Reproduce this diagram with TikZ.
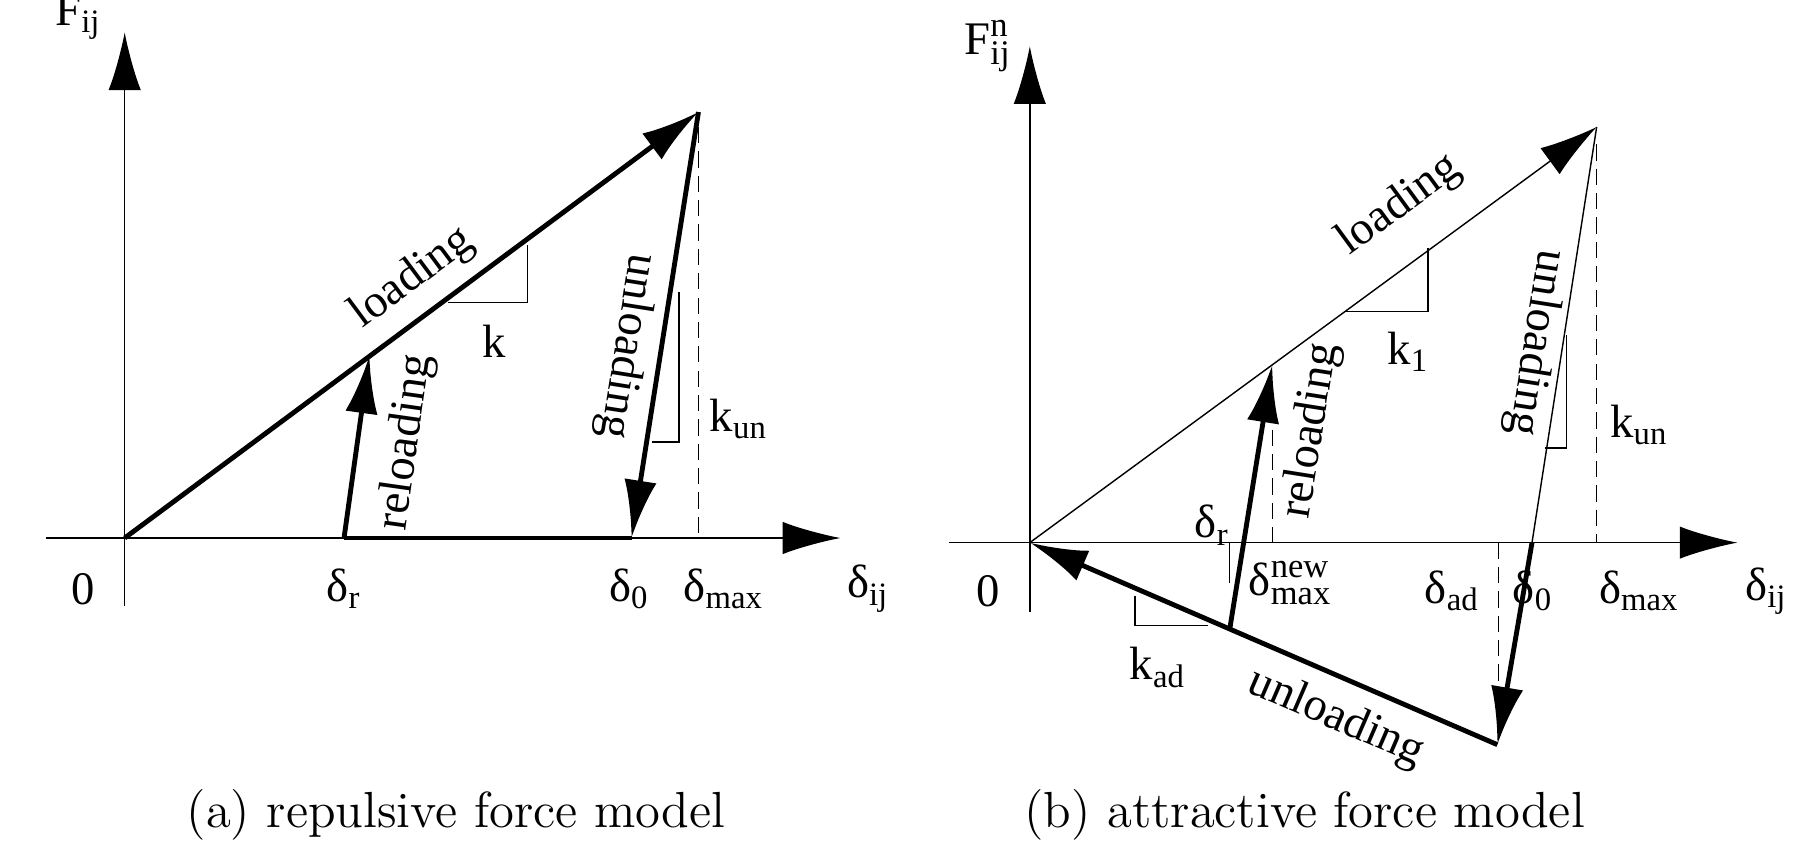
\documentclass[tikz,border=0pt]{standalone}
\usepackage{fontspec}
\setmainfont{Liberation Serif}
\newfontfamily\lmfont{Latin Modern Roman}
\usetikzlibrary{arrows.meta}
\newcommand{\sbs}[1]{\textsubscript{#1}}
\newcommand{\supsub}[2]{\rlap{\raisebox{0.85ex}{\fontsize{8.5}{9}\selectfont #1}}\raisebox{-0.45ex}{\fontsize{8.5}{9}\selectfont #2}}
\begin{document}
\begin{tikzpicture}[x=0.01cm,y=-0.01cm,
  tn/.style={line width=0.35pt},
  tk/.style={line width=1.2pt},
  arr/.style={-{Latex[length=5mm,width=2.8mm]}},
  dsh/.style={line width=0.35pt,dash pattern=on 4pt off 2pt},
  lab/.style={font=\fontsize{11.5}{13}\selectfont,inner sep=1pt},
  capt/.style={font=\lmfont\fontsize{12.5}{15}\selectfont}]
\useasboundingbox (0,0) rectangle (1560,738);
% ---------- panel a
\coordinate (Oa) at (108,466);
\coordinate (Ya) at (108,28);
\coordinate (Yab) at (108,525);
\coordinate (Xal) at (40,466);
\coordinate (Xa) at (728,466);
\coordinate (Pa) at (605,97);
\coordinate (D0a) at (547,466);
\coordinate (Dra) at (298,466);
\coordinate (Ra) at (320,308);
\draw[tn,arr] (Yab) -- (Ya);
\draw[tn,arr] (Xal) -- (Xa);
\draw[tk,arr] (Oa) -- (Pa);
\draw[tk,arr] (Pa) -- (D0a);
\draw[tk] (Dra) -- (D0a);
\draw[tk,arr] (Dra) -- (Ra);
\draw[dsh] (605,110) -- (605,466);
\draw[tn] (388,262) -- (457,262) -- (457,212);
\draw[tn] (588,253) -- (588,383) -- (565,383);
\node[lab] (la) at (357,241) [rotate=36.6] {loading};
\node[lab] (ua) at (543,300) [rotate=-99] {unloading};
\node[lab] (ra) at (352,383) [rotate=82] {reloading};
\node[lab] (ka) at (428,296) {k};
\node[lab] (kuna) at (640,363) {k\sbs{un}};
\node[lab] (za) at (72,510) {0};
\node[lab] (dra) at (298,510) {δ\sbs{r}};
\node[lab] (d0a) at (545,510) {δ\sbs{0}};
\node[lab] (dma) at (627,510) {δ\sbs{max}};
\node[lab] (dija) at (752,510) {δ\sbs{ij}};
\node[lab] (Fa) at (68,15) {F\sbs{ij}};
\node[capt] (capa) at (395,706) {(a) repulsive force model};
% ---------- panel b
\coordinate (Ob) at (892,470);
\coordinate (Yb) at (892,40);
\coordinate (Ybb) at (892,530);
\coordinate (Xbl) at (822,470);
\coordinate (Xb) at (1505,470);
\coordinate (Pb) at (1383,110);
\coordinate (D0b) at (1327,470);
\coordinate (Bb) at (1297,645);
\coordinate (Sb) at (1065,546);
\coordinate (Rb) at (1102,316);
\draw[tn,arr] (Ybb) -- (Yb);
\draw[tn,arr] (Xbl) -- (Xb);
\draw[tn,arr] (Ob) -- (Pb);
\draw[tn] (Pb) -- (D0b);
\draw[tk,arr] (D0b) -- (Bb);
\draw[tk,arr] (Bb) -- (Ob);
\draw[tk,arr] (Sb) -- (Rb);
\draw[dsh] (1383,125) -- (1383,470);
\draw[dsh] (1102,330) -- (1102,470);
\draw[dsh] (1298,470) -- (1298,600);
\draw[tn] (1065,470) -- (1065,505);
\draw[tn] (1165,270) -- (1237,270) -- (1237,215);
\draw[tn] (1357,290) -- (1357,388) -- (1338,388);
\draw[tn] (983,516) -- (983,542) -- (1046,542);
\node[lab] (lb) at (1212,178) [rotate=36.2] {loading};
\node[lab] (ub) at (1330,297) [rotate=-99] {unloading};
\node[lab] (rb) at (1136,373) [rotate=81] {reloading};
\node[lab] (ub2) at (1157,622) [rotate=-23.4] {unloading};
\node[lab] (kb) at (1220,305) {k\sbs{1}};
\node[lab] (kunb) at (1420,368) {k\sbs{un}};
\node[lab] (kad) at (1003,578) {k\sbs{ad}};
\node[lab] (zb) at (856,512) {0};
\node[lab] (drb) at (1050,455) {δ\sbs{r}};
\node[lab] (dnew) at (1117,505) {δ\supsub{new}{max}};
\node[lab] (dad) at (1258,512) {δ\sbs{ad}};
\node[lab] (d0b) at (1328,512) {δ\sbs{0}};
\node[lab] (dmb) at (1420,512) {δ\sbs{max}};
\node[lab] (dijb) at (1530,512) {δ\sbs{ij}};
\node[lab] (Fb) at (855,40) {F\supsub{n}{ij}};
\node[capt] (capb) at (1130,706) {(b) attractive force model};
\end{tikzpicture}
\end{document}
